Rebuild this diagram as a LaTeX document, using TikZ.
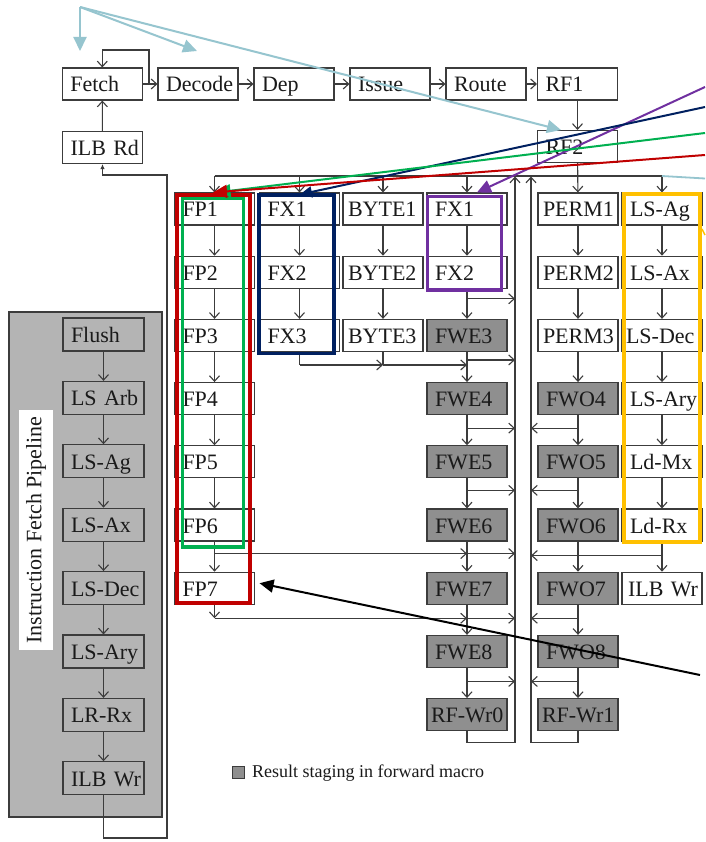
\documentclass[tikz,border=0pt]{standalone}
\usepackage{fontspec}
\setmainfont{Liberation Serif}
\usetikzlibrary{arrows.meta,calc}
\definecolor{linec}{HTML}{3C3C3C}
\definecolor{fwgray}{HTML}{8F8F8F}
\definecolor{panelgray}{HTML}{B4B4B4}
\definecolor{lblue}{RGB}{150,197,207}
\definecolor{apurple}{HTML}{7030A0}
\definecolor{anavy}{HTML}{002060}
\definecolor{agreen}{HTML}{00B050}
\definecolor{ared}{HTML}{C00000}
\definecolor{agold}{HTML}{FFC000}
\definecolor{txtc}{HTML}{1A1A1A}
\newcommand\boxfont{\fontsize{22}{24}\selectfont}
\newcommand\legfont{\fontsize{18}{20}\selectfont}
\begin{document}
\begin{tikzpicture}[x=1pt,y=-1pt,
 stage/.style={draw=linec, line width=1.1pt, fill=white, text=txtc, minimum height=32pt, text width=64pt, inner xsep=8pt, inner ysep=0pt, align=left, text height=18pt, text depth=2pt, font=\boxfont},
 fwstage/.style={stage, fill=fwgray},
 lpstage/.style={stage, fill=panelgray, minimum height=33pt, text width=65pt},
 conn/.style={draw=linec, line width=1.1pt},
 arr/.style={conn, -{Straight Barb[length=5.5pt,width=10pt,line width=1.1pt]}},
 ann/.style={line width=2pt, -{Triangle[length=14pt,width=13pt]}},
]
\useasboundingbox[fill=white] (0,0) rectangle (705,842);

% ---------- left panel ----------
\draw[linec, fill=panelgray, line width=1.2pt] (9,312) rectangle (162,817);
\node[fill=white, rotate=90, minimum width=240pt, minimum height=34pt, inner sep=0pt, text=txtc, font=\fontsize{22}{24}\selectfont] (lplabel) at (36,530) {Instruction Fetch Pipeline};
\node[lpstage] (Flush) at (103.5,334.5) {\mbox{Flush}};
\node[lpstage] (LSArb) at (103.5,397.9) {\mbox{LS Arb}};
\node[lpstage] (LSAgL) at (103.5,461.3) {\mbox{LS-Ag}};
\node[lpstage] (LSAxL) at (103.5,524.7) {\mbox{LS-Ax}};
\node[lpstage] (LSDecL) at (103.5,588.1) {\mbox{LS-Dec}};
\node[lpstage] (LSAryL) at (103.5,651.5) {\mbox{LS-Ary}};
\node[lpstage] (LRRx) at (103.5,714.9) {\mbox{LR-Rx}};
\node[lpstage] (ILBWrL) at (103.5,778.3) {\mbox{ILB Wr}};
\draw[arr] (Flush) -- (LSArb);
\draw[arr] (LSArb) -- (LSAgL);
\draw[arr] (LSAgL) -- (LSAxL);
\draw[arr] (LSAxL) -- (LSDecL);
\draw[arr] (LSDecL) -- (LSAryL);
\draw[arr] (LSAryL) -- (LRRx);
\draw[arr] (LRRx) -- (ILBWrL);

% ---------- top row ----------
\node[stage] (Fetch) at (102.3,84) {\mbox{Fetch}};
\node[stage] (Decode) at (198,84) {\mbox{Decode}};
\node[stage] (Dep) at (294,84) {\mbox{Dep}};
\node[stage] (Issue) at (390,84) {\mbox{Issue}};
\node[stage] (Route) at (486,84) {\mbox{Route}};
\node[stage] (RF1) at (577.5,84) {\mbox{RF1}};
\node[stage] (RF2) at (577.5,146.5) {\mbox{RF2}};
\node[stage] (ILBRd) at (102.5,147.5) {\mbox{ILB Rd}};
\draw[arr] (Fetch) -- (Decode);
\draw[arr] (Decode) -- (Dep);
\draw[arr] (Dep) -- (Issue);
\draw[arr] (Issue) -- (Route);
\draw[arr] (Route) -- (RF1);
\draw[arr] (RF1) -- (RF2);
\draw[arr] (ILBRd) -- (Fetch);
\coordinate (floop) at (149,84);
\draw[arr] (floop) -- ++(0,-34) -| (Fetch.north);

% ---------- columns ----------
\node[stage] (FP1) at (214.5,209) {\mbox{FP1}};
\node[stage] (FP2) at (214.5,272.2) {\mbox{FP2}};
\node[stage] (FP3) at (214.5,335.4) {\mbox{FP3}};
\node[stage] (FP4) at (214.5,398.6) {\mbox{FP4}};
\node[stage] (FP5) at (214.5,461.8) {\mbox{FP5}};
\node[stage] (FP6) at (214.5,525) {\mbox{FP6}};
\node[stage] (FP7) at (214.5,588.2) {\mbox{FP7}};

\node[stage] (FX1) at (299.5,209) {\mbox{FX1}};
\node[stage] (FX2) at (299.5,272.2) {\mbox{FX2}};
\node[stage] (FX3) at (299.5,335.4) {\mbox{FX3}};

\node[stage, inner xsep=5pt, text width=70pt] (BY1) at (383,209) {\mbox{BYTE1}};
\node[stage, inner xsep=5pt, text width=70pt] (BY2) at (383,272.2) {\mbox{BYTE2}};
\node[stage, inner xsep=5pt, text width=70pt] (BY3) at (383,335.4) {\mbox{BYTE3}};

\node[stage] (FX1p) at (467,209) {\mbox{FX1}};
\node[stage] (FX2p) at (467,272.2) {\mbox{FX2}};
\node[fwstage] (FWE3) at (467,335.4) {\mbox{FWE3}};
\node[fwstage] (FWE4) at (467,398.6) {\mbox{FWE4}};
\node[fwstage] (FWE5) at (467,461.8) {\mbox{FWE5}};
\node[fwstage] (FWE6) at (467,525) {\mbox{FWE6}};
\node[fwstage] (FWE7) at (467,588.2) {\mbox{FWE7}};
\node[fwstage] (FWE8) at (467,651.4) {\mbox{FWE8}};
\node[fwstage, inner xsep=4pt, text width=72pt] (RFWr0) at (467,714.6) {\mbox{RF-Wr0}};

\node[stage, inner xsep=5pt, text width=70pt] (PERM1) at (578,209) {\mbox{PERM1}};
\node[stage, inner xsep=5pt, text width=70pt] (PERM2) at (578,272.2) {\mbox{PERM2}};
\node[stage, inner xsep=5pt, text width=70pt] (PERM3) at (578,335.4) {\mbox{PERM3}};
\node[fwstage] (FWO4) at (578,398.6) {\mbox{FWO4}};
\node[fwstage] (FWO5) at (578,461.8) {\mbox{FWO5}};
\node[fwstage] (FWO6) at (578,525) {\mbox{FWO6}};
\node[fwstage] (FWO7) at (578,588.2) {\mbox{FWO7}};
\node[fwstage] (FWO8) at (578,651.4) {\mbox{FWO8}};
\node[fwstage, inner xsep=4pt, text width=72pt] (RFWr1) at (578,714.6) {\mbox{RF-Wr1}};

\node[stage] (LSAg) at (662,209) {\mbox{LS-Ag}};
\node[stage] (LSAx) at (662,272.2) {\mbox{LS-Ax}};
\node[stage, inner xsep=4pt, text width=72pt] (LSDec) at (662,335.4) {\mbox{LS-Dec}};
\node[stage] (LSAry) at (662,398.6) {\mbox{LS-Ary}};
\node[stage] (LdMx) at (662,461.8) {\mbox{Ld-Mx}};
\node[stage] (LdRx) at (662,525) {\mbox{Ld-Rx}};
\node[stage, inner xsep=6pt, text width=68pt] (ILBWr) at (662,588.2) {\mbox{ILB Wr}};

% vertical chains
\draw[arr] (FP1) -- (FP2);
\draw[arr] (FP2) -- (FP3);
\draw[arr] (FP3) -- (FP4);
\draw[arr] (FP4) -- (FP5);
\draw[arr] (FP5) -- (FP6);
\draw[arr] (FP6) -- (FP7);
\draw[arr] (FX1) -- (FX2);
\draw[arr] (FX2) -- (FX3);
\draw[arr] (BY1) -- (BY2);
\draw[arr] (BY2) -- (BY3);
\draw[arr] (FX1p) -- (FX2p);
\draw[arr] (FX2p) -- (FWE3);
\draw[arr] (FWE3) -- (FWE4);
\draw[arr] (FWE4) -- (FWE5);
\draw[arr] (FWE5) -- (FWE6);
\draw[arr] (FWE6) -- (FWE7);
\draw[arr] (FWE7) -- (FWE8);
\draw[arr] (FWE8) -- (RFWr0);
\draw[arr] (PERM1) -- (PERM2);
\draw[arr] (PERM2) -- (PERM3);
\draw[arr] (PERM3) -- (FWO4);
\draw[arr] (FWO4) -- (FWO5);
\draw[arr] (FWO5) -- (FWO6);
\draw[arr] (FWO6) -- (FWO7);
\draw[arr] (FWO7) -- (FWO8);
\draw[arr] (FWO8) -- (RFWr1);
\draw[arr] (LSAg) -- (LSAx);
\draw[arr] (LSAx) -- (LSDec);
\draw[arr] (LSDec) -- (LSAry);
\draw[arr] (LSAry) -- (LdMx);
\draw[arr] (LdMx) -- (LdRx);
\draw[arr] (LdRx) -- (ILBWr);

% top distribution bus
\coordinate (busy) at (0,176);
\draw[conn] (FP1.north |- busy) -- (LSAg.north |- busy);
\draw[arr] (RF2) -- (PERM1);
\draw[arr] (FP1.north |- busy) -- (FP1.north);
\draw[arr] (FX1.north |- busy) -- (FX1.north);
\draw[arr] (BY1.north |- busy) -- (BY1.north);
\draw[arr] (FX1p.north |- busy) -- (FX1p.north);
\draw[arr] (LSAg.north |- busy) -- (LSAg.north);

% return buses
\coordinate (b0top) at (515,176.5);
\coordinate (b1top) at (531,176.5);
\draw[arr] (RFWr0.south) -- ++(0,11.5) -| (b0top);
\draw[arr] (RFWr1.south) -- ++(0,11.5) -| (b1top);

% forwarding lines, even side
\coordinate (e2) at ($(FX2p.south)+(0,10)$);
\draw[arr] (e2) -- (e2 -| b0top);
\coordinate (e3) at ($(FWE3.south)+(0,8)$);
\draw[arr] (e3) -- (e3 -| b0top);
\coordinate (f3) at ($(FX3.south)+(0,13)$);
\draw[conn] (FX3.south) -- (f3);
\draw[conn] (BY3.south) -- (f3 -| BY3.south);
\draw[arr] (f3) -- (f3 -| BY3.south);
\draw[arr] (f3 -| BY3.south) -- (f3 -| FWE3.south);
\coordinate (e4) at ($(FWE4.south)+(0,13)$);
\draw[arr] (e4) -- (e4 -| b0top);
\coordinate (e5) at ($(FWE5.south)+(0,12)$);
\draw[arr] (e5) -- (e5 -| b0top);
\coordinate (e6) at ($(FP6.south)+(0,12)$);
\draw[arr] (e6) -- (e6 -| FWE6.south);
\draw[arr] (e6 -| FWE6.south) -- (e6 -| b0top);
\coordinate (e7) at ($(FP7.south)+(0,13.5)$);
\draw[arr] (FP7.south) -- (e7);
\draw[arr] (e7) -- (e7 -| FWE7.south);
\draw[arr] (e7 -| FWE7.south) -- (e7 -| b0top);
\coordinate (e8) at ($(FWE8.south)+(0,13.5)$);
\draw[arr] (e8) -- (e8 -| b0top);

% forwarding lines, odd side
\coordinate (o4) at ($(FWO4.south)+(0,13)$);
\draw[arr] (o4) -- (o4 -| b1top);
\coordinate (o5) at ($(FWO5.south)+(0,12)$);
\draw[arr] (o5) -- (o5 -| b1top);
\coordinate (o6) at ($(LdRx.south)+(0,14)$);
\draw[arr] (o6) -- (o6 -| b1top);
\coordinate (o7) at ($(FWO7.south)+(0,13.5)$);
\draw[arr] (o7) -- (o7 -| b1top);
\coordinate (o8) at ($(FWO8.south)+(0,13.5)$);
\draw[arr] (o8) -- (o8 -| b1top);

% ILB Wr return to ILB Rd
\coordinate (rb) at (167,838);
\coordinate (rt) at (167,175);
\draw[conn, -{Latex[length=5pt,width=4.5pt]}] (ILBWrL.south) |- (rb) -- (rt) -| (ILBRd.south);

% legend
\node[draw=linec, fill=fwgray, minimum size=12pt, inner sep=0pt, line width=1pt] (legsq) at (238,772) {};
\node[anchor=west, font=\legfont, text=txtc, inner sep=0pt] (legtx) at (252,773) {Result staging in forward macro};

% ---------- highlight frames ----------
\draw[ared, line width=4pt] (177,195) rectangle (250,603);
\draw[agreen, line width=3.2pt] (182.5,198.5) rectangle (243.5,547);
\draw[anavy, line width=3.5pt] (259,195) rectangle (334,353.5);
\draw[apurple, line width=3.5pt] (427.5,196.5) rectangle (501.5,290);
\draw[agold, line width=4pt] (623.5,194) rectangle (700,541.5);

% ---------- annotation arrows ----------
\coordinate (lbsrc) at (80,7);
\coordinate (lbtipA) at (80,51);
\coordinate (lbtipB) at (197,51);
\coordinate (lbtipC) at (561,130);
\draw[ann, lblue] (lbsrc) -- (lbtipA);
\draw[ann, lblue] (lbsrc) -- (lbtipB);
\draw[ann, lblue] (lbsrc) -- (lbtipC);
\coordinate (lbright) at (705,178.5);
\draw[lblue, line width=1.8pt] (lbright) -- (LSAg.north |- busy);
\coordinate (goldsrc) at (705,235);
\draw[agold, line width=1.5pt] (goldsrc) -- ++(-3,-6);

\coordinate (pusrc) at (705,87);
\draw[ann, apurple] (pusrc) -- ($(FX1p.north)+(10,0)$);
\coordinate (nvsrc) at (705,107);
\draw[ann, anavy, -{Triangle[length=12pt,width=11pt]}] (nvsrc) -- ($(FX1.north)+(0.5,2)$);
\coordinate (grsrc) at (705,133);
\draw[ann, agreen] (grsrc) -- ($(FP1.north)+(2,0)$);
\coordinate (rdsrc) at (705,155);
\draw[ann, ared] (rdsrc) -- ($(FP1.north)+(-1.5,0)$);
\coordinate (bksrc) at (700,675);
\draw[ann, black] (bksrc) -- ($(FP7.east)+(4.5,-5)$);
\end{tikzpicture}
\end{document}
